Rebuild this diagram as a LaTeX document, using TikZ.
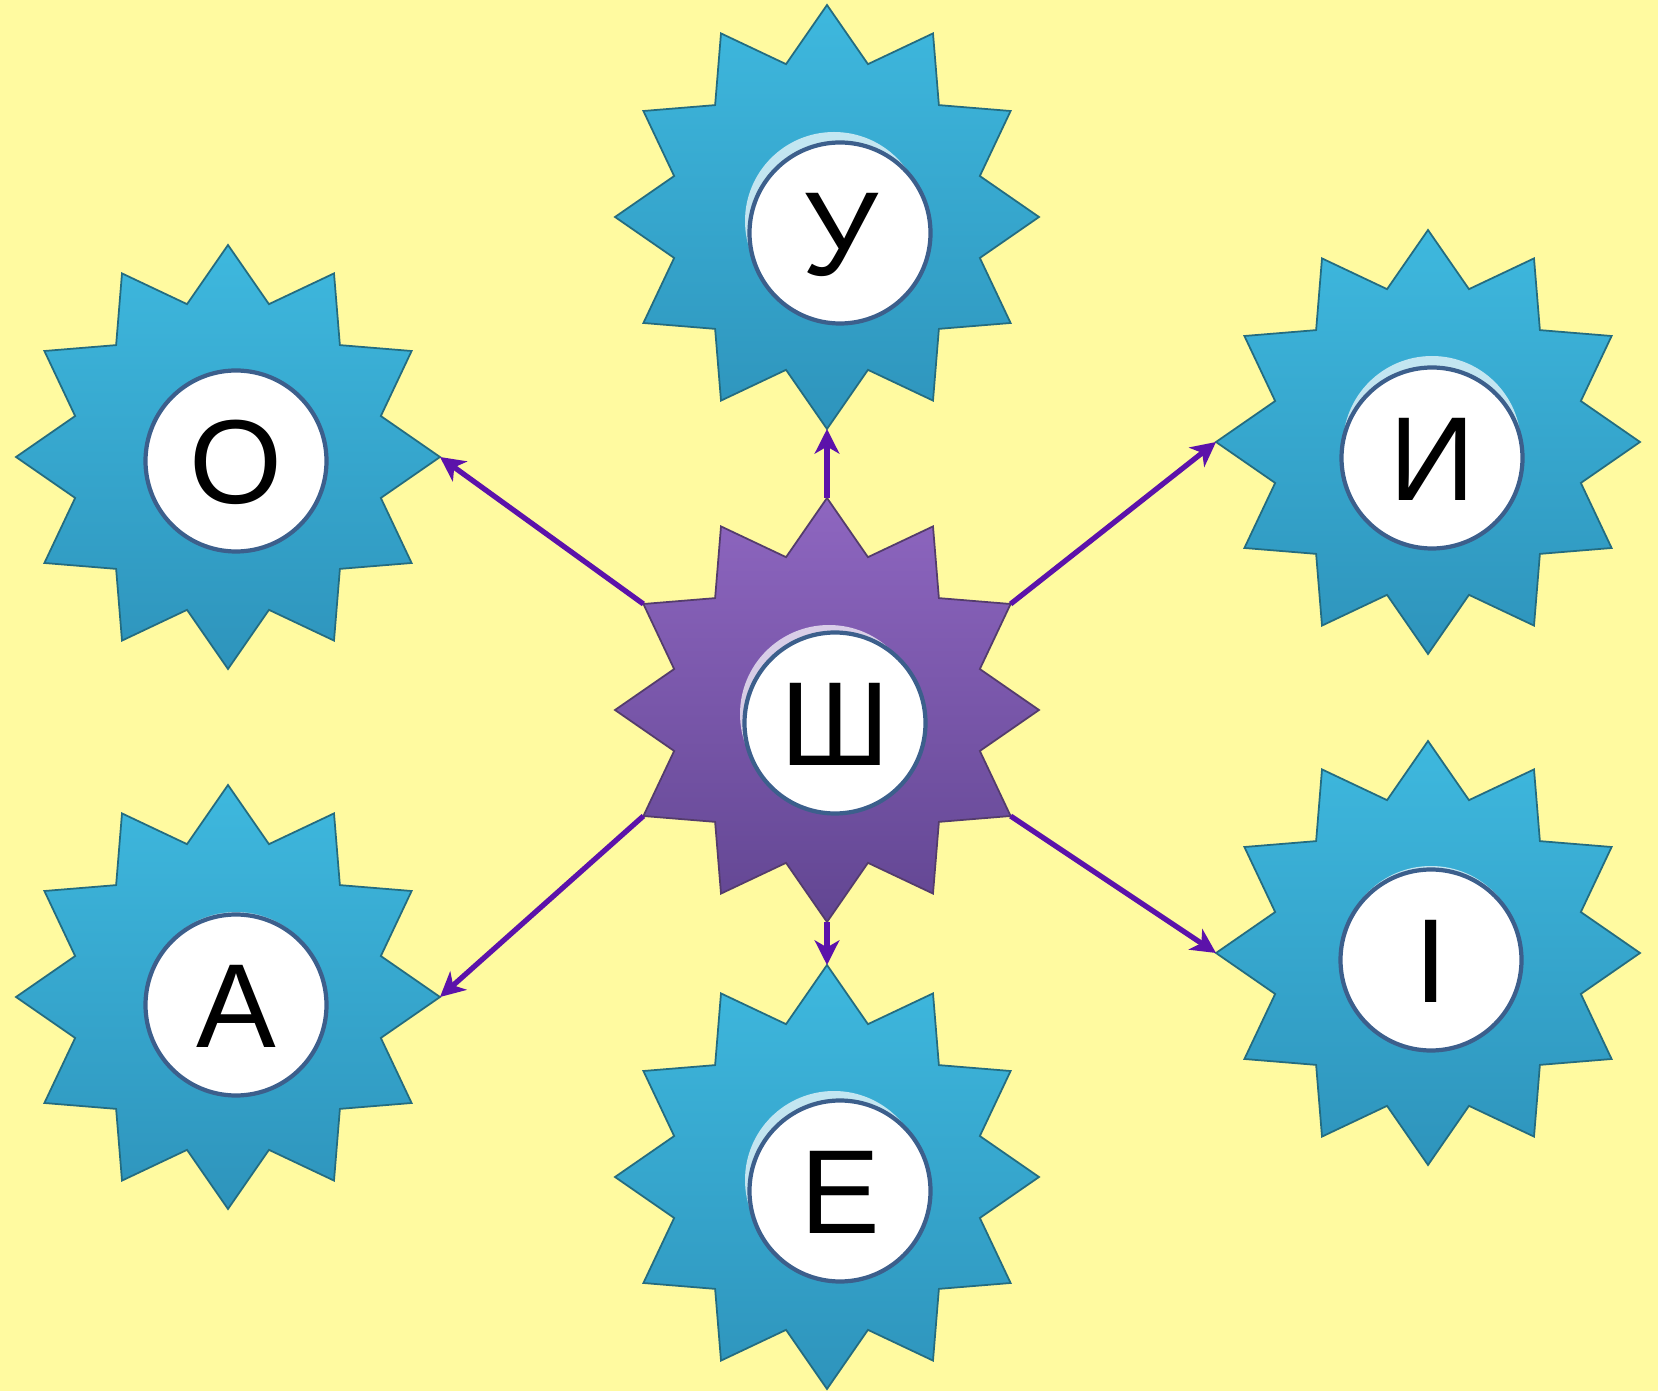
\documentclass[tikz,border=0pt]{standalone}
\usepackage{fontspec}
\setmainfont{Liberation Sans}
\usepackage{xcolor}
\usetikzlibrary{shapes.geometric,arrows.meta}
\definecolor{bgyellow}{RGB}{255,250,160}
\definecolor{bluetop}{RGB}{62,184,222}
\definecolor{bluebot}{RGB}{46,148,188}
\definecolor{bluedge}{RGB}{36,108,128}
\definecolor{violettop}{RGB}{142,102,192}
\definecolor{violetbot}{RGB}{98,70,146}
\definecolor{violetedge}{RGB}{84,60,108}
\definecolor{ringblue}{RGB}{60,95,140}
\definecolor{arrowviolet}{RGB}{92,18,170}

\begin{document}
\begin{tikzpicture}[x=0.1mm, y=-0.1mm,
  bluestar/.style={star, star points=12, star point ratio=1.34, minimum size=42.4mm,
    inner sep=0pt, outer sep=0pt, draw=bluedge, line width=0.5pt,
    top color=bluetop, bottom color=bluebot},
  violetstar/.style={bluestar, draw=violetedge, top color=violettop, bottom color=violetbot},
  letterring/.style={circle, minimum size=18.1mm, inner sep=0pt, fill=white,
    draw=ringblue, line width=1.2pt, font=\fontsize{34}{34}\selectfont,
    text height=24pt, text depth=0pt},
  link/.style={draw=arrowviolet, line width=1.5pt,
    -{Stealth[length=7pt, width=7pt, inset=2pt]}}]

  % Background
  \path[use as bounding box, fill=bgyellow] (0,0) rectangle (1658,1391);

  % Outer stars: name / star centre / gloss centre / ring centre / letter
  \foreach \nm/\sx/\sy/\gx/\gy/\cx/\cy/\lt in {
      U/827/217/834/221/840/233/У,
      Y/1428/442/1432/445/1432/458/И,
      I/1428/953/1431/955/1431/960/І,
      O/228/457/236/461/236/461/О,
      A/228/997/236/1001/236/1005/А,
      E/827/1177/834/1180/840/1191/Е}{
    \node[bluestar] (star\nm) at (\sx,\sy) {};
    \fill[white, opacity=0.7] (\gx,\gy) circle[radius=8.9mm];
    \node[letterring] (ring\nm) at (\cx,\cy) {\lt};
  }

  % Centre star
  \node[violetstar] (starSh) at (827,710) {};
  \fill[white, opacity=0.7] (829,714) circle[radius=8.9mm];
  \node[letterring] (ringSh) at (835,723) {Ш};

  % Arrows from the centre
  \draw[link] (starSh.outer point 1) -- (starU.outer point 7);
  \draw[link] (starSh.outer point 7) -- (starE.outer point 1);
  \draw[link] (starSh.outer point 3) -- (starO.outer point 10);
  \draw[link] (starSh.outer point 5) -- (starA.outer point 10);
  \draw[link] (starSh.outer point 11) -- (starY.outer point 4);
  \draw[link] (starSh.outer point 9) -- (starI.outer point 4);
\end{tikzpicture}
\end{document}
